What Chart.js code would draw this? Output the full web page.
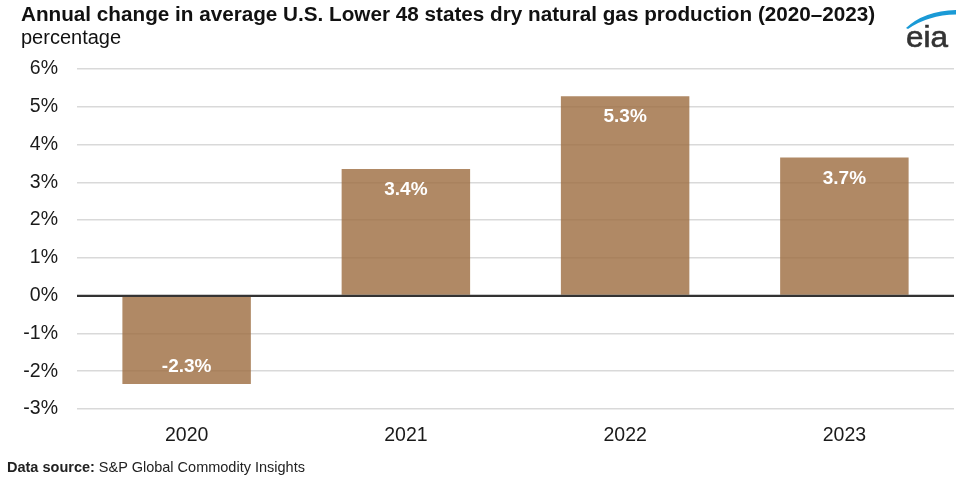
<!DOCTYPE html>
<html>
<head>
<meta charset="utf-8">
<script src="https://cdn.jsdelivr.net/npm/chart.js@4"></script>
<style>
  html, body { margin:0; padding:0; background:#fff; }
  #wrap { position:relative; width:959px; height:480px; overflow:hidden; font-family:"Liberation Sans", Arial, sans-serif; }
  #c { position:absolute; left:0; top:0; }
  .title { position:absolute; left:21px; top:2px; font-size:20.7px; line-height:24px; font-weight:bold; color:#111; white-space:nowrap; }
  .sub { position:absolute; left:21px; top:26px; font-size:20px; line-height:23px; color:#111; }
  .src { position:absolute; left:7px; top:459px; font-size:14.5px; color:#222; }
  .logo { position:absolute; left:900px; top:8px; }
</style>
</head>
<body>
<div id="wrap">
  <canvas id="c" width="959" height="480"></canvas>
  <div class="title">Annual change in average U.S. Lower 48 states dry natural gas production (2020–2023)</div>
  <div class="sub">percentage</div>
  <div class="src"><b>Data source:</b> S&amp;P Global Commodity Insights</div>
  <svg class="logo" width="59" height="44" viewBox="0 0 59 44">
    <path d="M6 20 Q24 3 56 2 L56 6.5 Q28 7 8 21 Z" fill="#1a9ad6"/>
    <text x="6" y="39" font-family="Liberation Sans, Arial, sans-serif" font-size="30" fill="#333" stroke="#333" stroke-width="0.6" textLength="42" lengthAdjust="spacingAndGlyphs">eia</text>
  </svg>
</div>
<script>
const categories = ["2020", "2021", "2022", "2023"];
const values = [-2.34, 3.35, 5.28, 3.66];
const valueLabels = ["-2.3%", "3.4%", "5.3%", "3.7%"];
const yTicks = [-3, -2, -1, 0, 1, 2, 3, 4, 5, 6];

const FONT = '"Liberation Sans", Arial, sans-serif';

const labelPlugin = {
  id: 'labels',
  afterDatasetsDraw(chart) {
    const ctx = chart.ctx;
    const y = chart.scales.y;
    const area = chart.chartArea;
    ctx.save();
    ctx.strokeStyle = '#333';
    ctx.lineWidth = 2;
    const y0 = y.getPixelForValue(0);
    ctx.beginPath();
    ctx.moveTo(area.left, y0);
    ctx.lineTo(area.right, y0);
    ctx.stroke();
    const meta = chart.getDatasetMeta(0);
    ctx.fillStyle = '#fff';
    ctx.font = 'bold 19px ' + FONT;
    ctx.textAlign = 'center';
    ctx.textBaseline = 'middle';
    meta.data.forEach((bar, i) => {
      const v = values[i];
      const ty = v >= 0 ? bar.y + 21 : bar.y - 17;
      ctx.fillText(valueLabels[i], bar.x, ty);
    });
    ctx.restore();
  }
};

new Chart(document.getElementById('c'), {
  type: 'bar',
  data: {
    labels: categories,
    datasets: [{
      data: values,
      backgroundColor: 'rgba(156,108,62,0.8)',
      borderWidth: 0,
      categoryPercentage: 1,
      barPercentage: 0.586
    }]
  },
  options: {
    responsive: false,
    animation: false,
    devicePixelRatio: 1,
    layout: { padding: { top: 69, right: 5, left: 0, bottom: 0 } },
    plugins: { legend: { display: false }, tooltip: { enabled: false } },
    scales: {
      x: {
        grid: { display: false, drawTicks: false },
        border: { display: false },
        ticks: { color: '#1a1a1a', font: { size: 19.5, family: FONT }, padding: 15 },
        afterFit(s) { s.height = 71; }
      },
      y: {
        min: -3, max: 6,
        afterBuildTicks(s) { s.ticks = yTicks.map(v => ({ value: v })); },
        grid: { color: (c) => c.tick && c.tick.value === 0 ? '#333' : '#d9d9d9', lineWidth: (c) => c.tick && c.tick.value === 0 ? 2 : 1.5, drawTicks: false },
        border: { display: false },
        ticks: { color: '#1a1a1a', font: { size: 19.5, family: FONT }, padding: 19, callback: (v) => v + '%' },
        afterFit(s) { s.width = 77; }
      }
    }
  },
  plugins: [labelPlugin]
});
</script>
</body>
</html>
